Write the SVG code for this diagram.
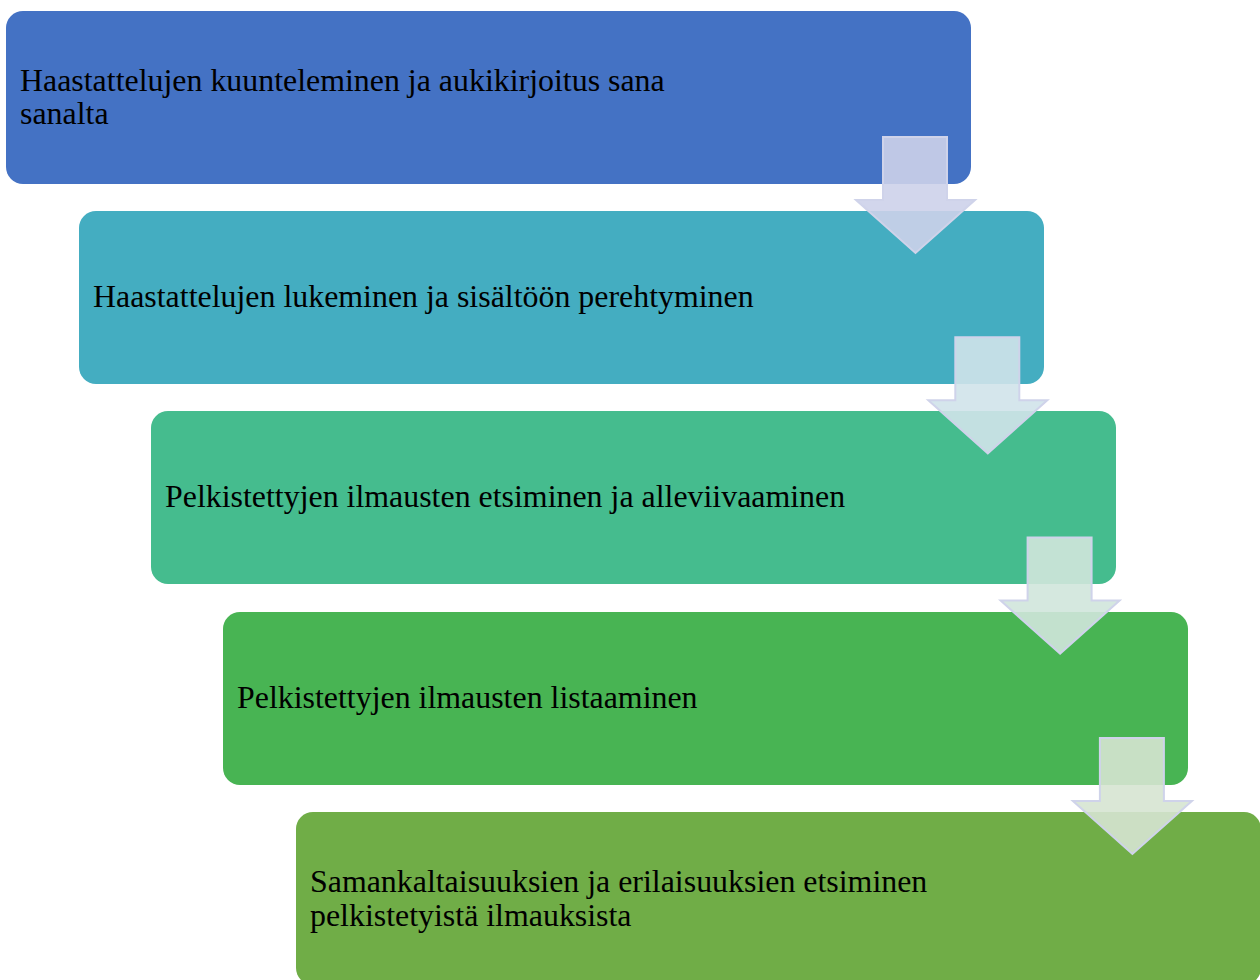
<svg xmlns="http://www.w3.org/2000/svg" width="1260" height="980" viewBox="0 0 1260 980">
<style>
.box{stroke:none}
.lbl{font-family:"Liberation Serif","Times New Roman",serif;font-size:31.9px;fill:#000}
.arr{stroke:#cfd3ea;stroke-width:2;fill-opacity:0.9;stroke-linejoin:miter}
</style>
<defs>
<path id="arrowShape" d="M883,137 H947 V200 H975 L915.5,253 L856,200 H883 Z"/>
</defs>
<rect width="1260" height="980" fill="#fff"/>
<g id="node1">
<rect class="box" x="6" y="11" width="965" height="173" rx="17" fill="#4472c4"/>
<text class="lbl" x="20" y="91">Haastattelujen kuunteleminen ja aukikirjoitus sana</text>
<text class="lbl" x="20" y="124">sanalta</text>
</g>
<g id="node2">
<rect class="box" x="79" y="211" width="965" height="173" rx="17" fill="#44adc1"/>
<text class="lbl" x="93" y="307">Haastattelujen lukeminen ja sisältöön perehtyminen</text>
</g>
<g id="node3">
<rect class="box" x="151" y="411" width="965" height="173" rx="17" fill="#45bc8e"/>
<text class="lbl" x="165" y="507">Pelkistettyjen ilmausten etsiminen ja alleviivaaminen</text>
</g>
<g id="node4">
<rect class="box" x="223" y="612" width="965" height="173" rx="17" fill="#48b453"/>
<text class="lbl" x="237" y="708">Pelkistettyjen ilmausten listaaminen</text>
</g>
<g id="node5">
<rect class="box" x="296" y="812" width="965" height="173" rx="17" fill="#70ad47"/>
<text class="lbl" x="310" y="892">Samankaltaisuuksien ja erilaisuuksien etsiminen</text>
<text class="lbl" x="310" y="926">pelkistetyistä ilmauksista</text>
</g>
<g id="connectors">
<use href="#arrowShape" class="arr" fill="#cdd2ea"/>
<use href="#arrowShape" class="arr" fill="#d0e3ea" transform="translate(72.3,200.3)"/>
<use href="#arrowShape" class="arr" fill="#d0e6dc" transform="translate(144.6,400.6)"/>
<use href="#arrowShape" class="arr" fill="#d6e4d2" transform="translate(216.9,600.9)"/>
</g>
</svg>
